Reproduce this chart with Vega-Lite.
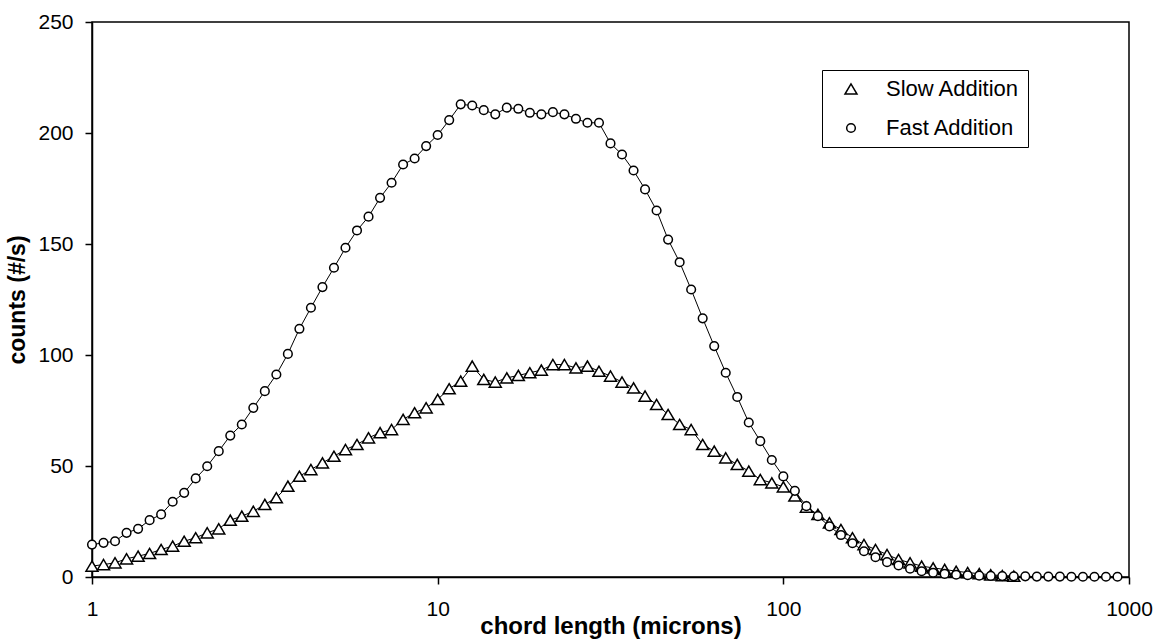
{
  "$schema": "https://vega.github.io/schema/vega-lite/v6.json",
  "autosize": "none",
  "width": 1037,
  "height": 555,
  "padding": {"left": 92, "top": 22, "right": 27, "bottom": 65},
  "background": "white",
  "config": {
    "view": {"stroke": "black", "strokeWidth": 1.5},
    "font": "Liberation Sans",
    "axis": {
      "grid": false,
      "domainColor": "black",
      "domainWidth": 1.5,
      "tickColor": "black",
      "tickWidth": 1.5,
      "tickSize": 7,
      "labelColor": "black",
      "labelFont": "Liberation Sans",
      "labelFontSize": 21,
      "titleColor": "black",
      "titleFont": "Liberation Sans",
      "titleFontWeight": "bold",
      "titleFontSize": 22
    }
  },
  "data": {"values": [
    {"x":1,"series":"Slow Addition","y":4.9},
    {"x":1.0798,"series":"Slow Addition","y":5.6},
    {"x":1.1659,"series":"Slow Addition","y":6.4},
    {"x":1.2589,"series":"Slow Addition","y":8.2},
    {"x":1.3594,"series":"Slow Addition","y":9.4},
    {"x":1.4678,"series":"Slow Addition","y":10.6},
    {"x":1.5849,"series":"Slow Addition","y":12.4},
    {"x":1.7113,"series":"Slow Addition","y":13.9},
    {"x":1.8478,"series":"Slow Addition","y":16.1},
    {"x":1.9953,"series":"Slow Addition","y":17.7},
    {"x":2.1544,"series":"Slow Addition","y":19.9},
    {"x":2.3263,"series":"Slow Addition","y":21.7},
    {"x":2.5119,"series":"Slow Addition","y":25.6},
    {"x":2.7123,"series":"Slow Addition","y":27.4},
    {"x":2.9286,"series":"Slow Addition","y":29.6},
    {"x":3.1623,"series":"Slow Addition","y":32.7},
    {"x":3.4145,"series":"Slow Addition","y":35.7},
    {"x":3.6869,"series":"Slow Addition","y":40.9},
    {"x":3.9811,"series":"Slow Addition","y":45.4},
    {"x":4.2987,"series":"Slow Addition","y":48.4},
    {"x":4.6416,"series":"Slow Addition","y":51.4},
    {"x":5.0119,"series":"Slow Addition","y":54.4},
    {"x":5.4117,"series":"Slow Addition","y":57.4},
    {"x":5.8434,"series":"Slow Addition","y":59.7},
    {"x":6.3096,"series":"Slow Addition","y":62.7},
    {"x":6.8129,"series":"Slow Addition","y":65.0},
    {"x":7.3564,"series":"Slow Addition","y":66.4},
    {"x":7.9433,"series":"Slow Addition","y":71.0},
    {"x":8.577,"series":"Slow Addition","y":74.0},
    {"x":9.2611,"series":"Slow Addition","y":76.2},
    {"x":10,"series":"Slow Addition","y":80.0},
    {"x":10.798,"series":"Slow Addition","y":84.8},
    {"x":11.659,"series":"Slow Addition","y":88.2},
    {"x":12.589,"series":"Slow Addition","y":95.0},
    {"x":13.594,"series":"Slow Addition","y":89.0},
    {"x":14.678,"series":"Slow Addition","y":87.8},
    {"x":15.849,"series":"Slow Addition","y":89.7},
    {"x":17.113,"series":"Slow Addition","y":90.8},
    {"x":18.478,"series":"Slow Addition","y":92.0},
    {"x":19.953,"series":"Slow Addition","y":93.2},
    {"x":21.544,"series":"Slow Addition","y":95.7},
    {"x":23.263,"series":"Slow Addition","y":95.7},
    {"x":25.119,"series":"Slow Addition","y":94.2},
    {"x":27.123,"series":"Slow Addition","y":95.0},
    {"x":29.286,"series":"Slow Addition","y":92.7},
    {"x":31.623,"series":"Slow Addition","y":90.5},
    {"x":34.145,"series":"Slow Addition","y":87.8},
    {"x":36.869,"series":"Slow Addition","y":85.2},
    {"x":39.811,"series":"Slow Addition","y":81.5},
    {"x":42.987,"series":"Slow Addition","y":77.7},
    {"x":46.416,"series":"Slow Addition","y":73.2},
    {"x":50.119,"series":"Slow Addition","y":68.7},
    {"x":54.117,"series":"Slow Addition","y":66.4},
    {"x":58.434,"series":"Slow Addition","y":59.7},
    {"x":63.096,"series":"Slow Addition","y":56.7},
    {"x":68.129,"series":"Slow Addition","y":53.7},
    {"x":73.564,"series":"Slow Addition","y":50.7},
    {"x":79.433,"series":"Slow Addition","y":47.7},
    {"x":85.77,"series":"Slow Addition","y":43.9},
    {"x":92.611,"series":"Slow Addition","y":42.4},
    {"x":100,"series":"Slow Addition","y":40.6},
    {"x":107.98,"series":"Slow Addition","y":36.5},
    {"x":116.59,"series":"Slow Addition","y":31.5},
    {"x":125.89,"series":"Slow Addition","y":28.2},
    {"x":135.94,"series":"Slow Addition","y":24.4},
    {"x":146.78,"series":"Slow Addition","y":21.4},
    {"x":158.49,"series":"Slow Addition","y":17.7},
    {"x":171.13,"series":"Slow Addition","y":14.6},
    {"x":184.78,"series":"Slow Addition","y":12.4},
    {"x":199.53,"series":"Slow Addition","y":10.1},
    {"x":215.44,"series":"Slow Addition","y":7.9},
    {"x":232.63,"series":"Slow Addition","y":6.4},
    {"x":251.19,"series":"Slow Addition","y":4.9},
    {"x":271.23,"series":"Slow Addition","y":4.1},
    {"x":292.86,"series":"Slow Addition","y":3.4},
    {"x":316.23,"series":"Slow Addition","y":2.6},
    {"x":341.45,"series":"Slow Addition","y":2.0},
    {"x":368.69,"series":"Slow Addition","y":1.5},
    {"x":398.11,"series":"Slow Addition","y":1.0},
    {"x":429.87,"series":"Slow Addition","y":0.6},
    {"x":464.16,"series":"Slow Addition","y":0.4},
    {"x":1,"series":"Fast Addition","y":14.6},
    {"x":1.0798,"series":"Fast Addition","y":15.4},
    {"x":1.1659,"series":"Fast Addition","y":16.1},
    {"x":1.2589,"series":"Fast Addition","y":19.9},
    {"x":1.3594,"series":"Fast Addition","y":21.7},
    {"x":1.4678,"series":"Fast Addition","y":25.6},
    {"x":1.5849,"series":"Fast Addition","y":28.2},
    {"x":1.7113,"series":"Fast Addition","y":33.9},
    {"x":1.8478,"series":"Fast Addition","y":37.9},
    {"x":1.9953,"series":"Fast Addition","y":44.4},
    {"x":2.1544,"series":"Fast Addition","y":49.9},
    {"x":2.3263,"series":"Fast Addition","y":56.7},
    {"x":2.5119,"series":"Fast Addition","y":63.7},
    {"x":2.7123,"series":"Fast Addition","y":68.7},
    {"x":2.9286,"series":"Fast Addition","y":76.2},
    {"x":3.1623,"series":"Fast Addition","y":83.7},
    {"x":3.4145,"series":"Fast Addition","y":91.2},
    {"x":3.6869,"series":"Fast Addition","y":100.5},
    {"x":3.9811,"series":"Fast Addition","y":111.8},
    {"x":4.2987,"series":"Fast Addition","y":121.3},
    {"x":4.6416,"series":"Fast Addition","y":130.6},
    {"x":5.0119,"series":"Fast Addition","y":139.3},
    {"x":5.4117,"series":"Fast Addition","y":148.3},
    {"x":5.8434,"series":"Fast Addition","y":156.1},
    {"x":6.3096,"series":"Fast Addition","y":162.3},
    {"x":6.8129,"series":"Fast Addition","y":170.8},
    {"x":7.3564,"series":"Fast Addition","y":177.6},
    {"x":7.9433,"series":"Fast Addition","y":185.8},
    {"x":8.577,"series":"Fast Addition","y":188.5},
    {"x":9.2611,"series":"Fast Addition","y":194.1},
    {"x":10,"series":"Fast Addition","y":199.1},
    {"x":10.798,"series":"Fast Addition","y":205.8},
    {"x":11.659,"series":"Fast Addition","y":212.9},
    {"x":12.589,"series":"Fast Addition","y":212.4},
    {"x":13.594,"series":"Fast Addition","y":210.3},
    {"x":14.678,"series":"Fast Addition","y":208.4},
    {"x":15.849,"series":"Fast Addition","y":211.4},
    {"x":17.113,"series":"Fast Addition","y":210.9},
    {"x":18.478,"series":"Fast Addition","y":209.1},
    {"x":19.953,"series":"Fast Addition","y":208.4},
    {"x":21.544,"series":"Fast Addition","y":209.4},
    {"x":23.263,"series":"Fast Addition","y":208.4},
    {"x":25.119,"series":"Fast Addition","y":206.4},
    {"x":27.123,"series":"Fast Addition","y":204.6},
    {"x":29.286,"series":"Fast Addition","y":204.6},
    {"x":31.623,"series":"Fast Addition","y":195.3},
    {"x":34.145,"series":"Fast Addition","y":190.3},
    {"x":36.869,"series":"Fast Addition","y":183.1},
    {"x":39.811,"series":"Fast Addition","y":174.6},
    {"x":42.987,"series":"Fast Addition","y":165.1},
    {"x":46.416,"series":"Fast Addition","y":152.0},
    {"x":50.119,"series":"Fast Addition","y":141.8},
    {"x":54.117,"series":"Fast Addition","y":129.5},
    {"x":58.434,"series":"Fast Addition","y":116.5},
    {"x":63.096,"series":"Fast Addition","y":104.0},
    {"x":68.129,"series":"Fast Addition","y":92.0},
    {"x":73.564,"series":"Fast Addition","y":81.1},
    {"x":79.433,"series":"Fast Addition","y":69.6},
    {"x":85.77,"series":"Fast Addition","y":61.2},
    {"x":92.611,"series":"Fast Addition","y":52.7},
    {"x":100,"series":"Fast Addition","y":45.3},
    {"x":107.98,"series":"Fast Addition","y":38.8},
    {"x":116.59,"series":"Fast Addition","y":31.9},
    {"x":125.89,"series":"Fast Addition","y":27.4},
    {"x":135.94,"series":"Fast Addition","y":22.8},
    {"x":146.78,"series":"Fast Addition","y":18.9},
    {"x":158.49,"series":"Fast Addition","y":15.2},
    {"x":171.13,"series":"Fast Addition","y":11.6},
    {"x":184.78,"series":"Fast Addition","y":8.9},
    {"x":199.53,"series":"Fast Addition","y":6.7},
    {"x":215.44,"series":"Fast Addition","y":5.2},
    {"x":232.63,"series":"Fast Addition","y":3.7},
    {"x":251.19,"series":"Fast Addition","y":2.6},
    {"x":271.23,"series":"Fast Addition","y":1.9},
    {"x":292.86,"series":"Fast Addition","y":1.4},
    {"x":316.23,"series":"Fast Addition","y":1.0},
    {"x":341.45,"series":"Fast Addition","y":0.8},
    {"x":368.69,"series":"Fast Addition","y":0.6},
    {"x":398.11,"series":"Fast Addition","y":0.5},
    {"x":429.87,"series":"Fast Addition","y":0.4},
    {"x":464.16,"series":"Fast Addition","y":0.3},
    {"x":501.19,"series":"Fast Addition","y":0.3},
    {"x":541.17,"series":"Fast Addition","y":0.2},
    {"x":584.34,"series":"Fast Addition","y":0.2},
    {"x":630.96,"series":"Fast Addition","y":0.2},
    {"x":681.29,"series":"Fast Addition","y":0.1},
    {"x":735.64,"series":"Fast Addition","y":0.1},
    {"x":794.33,"series":"Fast Addition","y":0.1},
    {"x":857.7,"series":"Fast Addition","y":0.1},
    {"x":926.11,"series":"Fast Addition","y":0.1}
  ]},
  "encoding": {
    "x": {
      "field": "x", "type": "quantitative",
      "scale": {"type": "log", "domain": [1, 1000], "nice": false},
      "axis": {"values": [1, 10, 100, 1000], "format": "d", "title": "chord length (microns)", "labelPadding": 14, "titlePadding": -5, "titleFontSize": 24, "labelFlush": false}
    },
    "y": {
      "field": "y", "type": "quantitative",
      "scale": {"domain": [0, 250], "nice": false},
      "axis": {"values": [0, 50, 100, 150, 200, 250], "title": "counts (#/s)", "labelPadding": 12, "titlePadding": 8, "titleFontSize": 23}
    }
  },
  "layer": [
    {
      "mark": {"type": "line", "stroke": "black", "strokeWidth": 1},
      "encoding": {"detail": {"field": "series"}}
    },
    {
      "mark": {"type": "point", "filled": true, "fill": "white", "stroke": "black", "strokeWidth": 1.5, "opacity": 1, "size": 144},
      "encoding": {
        "shape": {
          "field": "series", "type": "nominal",
          "scale": {"domain": ["Slow Addition", "Fast Addition"], "range": ["M0,-0.85L-1,0.85L1,0.85Z", "M0.72,0A0.72,0.72 0 1,1 -0.72,0A0.72,0.72 0 1,1 0.72,0Z"]},
          "legend": {
            "title": null,
            "orient": "none",
            "legendX": 730,
            "legendY": 48,
            "padding": 8,
            "rowPadding": 17,
            "symbolSize": 144,
            "symbolOffset": 10,
            "labelOffset": 24,
            "labelFontSize": 22,
            "labelFont": "Liberation Sans",
            "labelColor": "black",
            "strokeColor": "black",
            "fillColor": "white",
            "encode": {
              "symbols": {
                "update": {
                  "shape": [
                    {"test": "datum.value === 'Slow Addition'", "value": "M-4.2,0L-0.5,0M0.5,0L4.2,0M0,-0.85L-1,0.85L1,0.85Z"},
                    {"value": "M-4.2,0L-0.72,0M0.72,0L4.2,0M0.72,0A0.72,0.72 0 1,1 -0.72,0A0.72,0.72 0 1,1 0.72,0Z"}
                  ]
                }
              }
            }
          }
        }
      }
    }
  ]
}
